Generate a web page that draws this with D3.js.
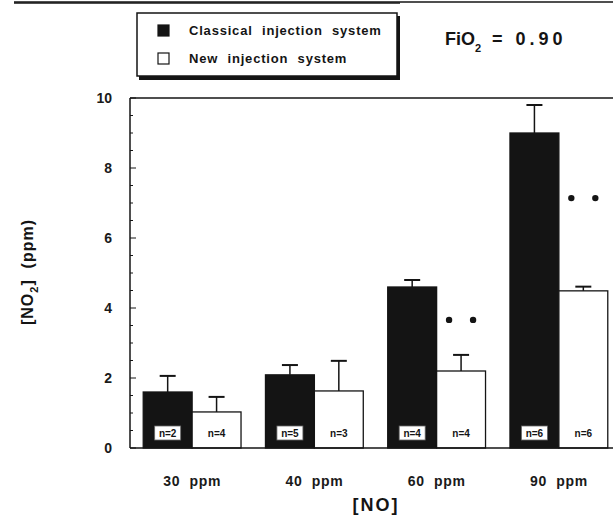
<!DOCTYPE html>
<html>
<head>
<meta charset="utf-8">
<script src="https://cdn.jsdelivr.net/npm/d3@7"></script>
<style>
  body { margin: 0; background: #fff; }
  svg { display: block; font-family: "Liberation Sans", Arial, sans-serif; }
  .tick-label { font-size: 13px; font-weight: bold; fill: #1a1a1a; }
</style>
</head>
<body>
<svg id="chart" width="613" height="517"></svg>
<script>
// data
var doses = ["30 ppm", "40 ppm", "60 ppm", "90 ppm"];
var series = ["Classical injection system", "New injection system"];
var classicalMean = [1.6, 2.09, 4.6, 9.0];
var classicalSE   = [0.46, 0.28, 0.2, 0.8];
var newMean = [1.03, 1.63, 2.2, 4.49];
var newSE   = [0.43, 0.86, 0.46, 0.12];
var classicalN = [2, 5, 4, 6];
var newN = [4, 3, 4, 6];
var sigLevel = [null, null, 3.66, 7.14];  // where the "* *" sit
var yTicks = [0, 2, 4, 6, 8, 10];

var ink = "#141414";
var svg = d3.select("#chart");

var x0 = d3.scaleBand().domain(doses).range([131, 620]).paddingInner(0.2).paddingOuter(0.1);
var x1 = d3.scaleBand().domain(series).range([0, x0.bandwidth()]);
var y = d3.scaleLinear().domain([0, 10]).range([448, 98]);

//組合資料
var data = [];
doses.forEach(function(d, i){
  data.push({dose: d, s: series[0], mean: classicalMean[i], se: classicalSE[i], n: classicalN[i]});
  data.push({dose: d, s: series[1], mean: newMean[i], se: newSE[i], n: newN[i]});
});

// top rule of the page
svg.append("line").attr("x1", 14).attr("x2", 613).attr("y1", 2).attr("y2", 2)
  .attr("stroke", ink).attr("stroke-width", 1.5);
svg.append("line").attr("x1", 14).attr("x2", 400).attr("y1", 3).attr("y2", 3)
  .attr("stroke", ink).attr("stroke-width", 1.5);

// frame
svg.append("line").attr("x1", 130).attr("x2", 613).attr("y1", y(10)).attr("y2", y(10))
  .attr("stroke", ink).attr("stroke-width", 1.5);

// bars
var bars = svg.append("g");
bars.selectAll("rect").data(data).enter().append("rect")
  .attr("x", function(d){ return x0(d.dose) + x1(d.s); })
  .attr("y", function(d){ return y(d.mean); })
  .attr("width", x1.bandwidth())
  .attr("height", function(d){ return y(0) - y(d.mean); })
  .attr("fill", function(d){ return d.s == series[0] ? ink : "#fff"; })
  .attr("stroke", ink).attr("stroke-width", 1.3);

// error bars (upper only)
var err = svg.append("g").attr("stroke", ink).attr("stroke-width", 1.5);
data.forEach(function(d){
  var cx = x0(d.dose) + x1(d.s) + x1.bandwidth() / 2;
  err.append("line").attr("x1", cx).attr("x2", cx)
    .attr("y1", y(d.mean)).attr("y2", y(d.mean + d.se));
  err.append("line").attr("x1", cx - 8).attr("x2", cx + 8)
    .attr("y1", y(d.mean + d.se)).attr("y2", y(d.mean + d.se)).attr("stroke-width", 2);
});

// n labels
data.forEach(function(d){
  var cx = x0(d.dose) + x1(d.s) + x1.bandwidth() / 2;
  if(d.s == series[0]){
    svg.append("rect").attr("x", cx - 13).attr("y", 426).attr("width", 26).attr("height", 14)
      .attr("fill", "#fff").attr("stroke", "#666").attr("stroke-width", 0.8);
  }
  svg.append("text").attr("x", cx).attr("y", 437).attr("text-anchor", "middle")
    .style("font-size", "10px").style("font-weight", "bold").attr("fill", ink)
    .text("n=" + d.n);
});

// significance marks
doses.forEach(function(d, i){
  if(sigLevel[i] == null) return;
  var cx = x0(d) + x1(series[1]) + x1.bandwidth() / 2;
  [-12, 12].forEach(function(off){
    svg.append("circle").attr("cx", cx + off).attr("cy", y(sigLevel[i])).attr("r", 3.2).attr("fill", ink);
  });
});

// axes lines
svg.append("line").attr("x1", 130).attr("x2", 130).attr("y1", y(10)).attr("y2", y(0))
  .attr("stroke", ink).attr("stroke-width", 1.5);
svg.append("line").attr("x1", 130).attr("x2", 613).attr("y1", y(0)).attr("y2", y(0))
  .attr("stroke", ink).attr("stroke-width", 1.5);

// y ticks: minor every 0.5, major every 2
d3.range(0, 10.01, 0.5).forEach(function(v){
  var major = yTicks.indexOf(v) >= 0;
  svg.append("line").attr("x1", 130).attr("x2", 130 + (major ? 6 : 3))
    .attr("y1", y(v)).attr("y2", y(v)).attr("stroke", ink).attr("stroke-width", 1);
});
svg.append("g").selectAll("text").data(yTicks).enter().append("text")
  .attr("class", "tick-label")
  .attr("x", 112).attr("y", function(d){ return y(d) + 5; })
  .attr("text-anchor", "end").style("font-size", "14px")
  .text(function(d){ return d; });

// x tick labels
svg.append("g").selectAll("text").data(doses).enter().append("text")
  .attr("class", "tick-label")
  .attr("x", function(d){ return x0(d) + x0.bandwidth() / 2; })
  .attr("y", 486).attr("text-anchor", "middle")
  .style("font-size", "14px").style("word-spacing", "5px").style("letter-spacing", "0.6px")
  .text(function(d){ return d; });

// axis titles
svg.append("text").attr("x", 376).attr("y", 511).attr("text-anchor", "middle")
  .style("font-size", "18px").style("font-weight", "bold").style("letter-spacing", "2px")
  .attr("fill", ink).text("[NO]");

var yt = svg.append("text").attr("transform", "translate(33,272) rotate(-90)")
  .attr("text-anchor", "middle").style("font-size", "16px").style("font-weight", "bold")
  .style("letter-spacing", "1px").attr("fill", ink);
yt.append("tspan").text("[NO");
yt.append("tspan").attr("dy", 5).style("font-size", "11px").text("2");
yt.append("tspan").attr("dy", -5).text("]  (ppm)").style("white-space", "pre");

// legend
var lg = svg.append("g");
lg.append("rect").attr("x", 139).attr("y", 16).attr("width", 261).attr("height", 64).attr("fill", ink);
lg.append("rect").attr("x", 137).attr("y", 13).attr("width", 260).attr("height", 63)
  .attr("fill", "#fff").attr("stroke", ink).attr("stroke-width", 1.5);
series.forEach(function(s, i){
  var yy = 25 + i * 28;
  lg.append("rect").attr("x", 158).attr("y", yy).attr("width", 11).attr("height", 11)
    .attr("fill", i == 0 ? ink : "#fff").attr("stroke", ink).attr("stroke-width", 1.2);
  lg.append("text").attr("x", 189).attr("y", yy + 10)
    .style("font-size", "13px").style("font-weight", "bold")
    .style("word-spacing", "5px").style("letter-spacing", "0.8px")
    .attr("fill", ink).text(s);
});

// FiO2 label
var fi = svg.append("text").attr("x", 445).attr("y", 45)
  .style("font-size", "18px").style("font-weight", "bold").attr("fill", ink);
fi.append("tspan").text("FiO");
fi.append("tspan").attr("dy", 7).style("font-size", "11px").text("2");
fi.append("tspan").attr("dy", -7).attr("x", 492).style("letter-spacing", "4px").text("= 0.90");
</script>
</body>
</html>
